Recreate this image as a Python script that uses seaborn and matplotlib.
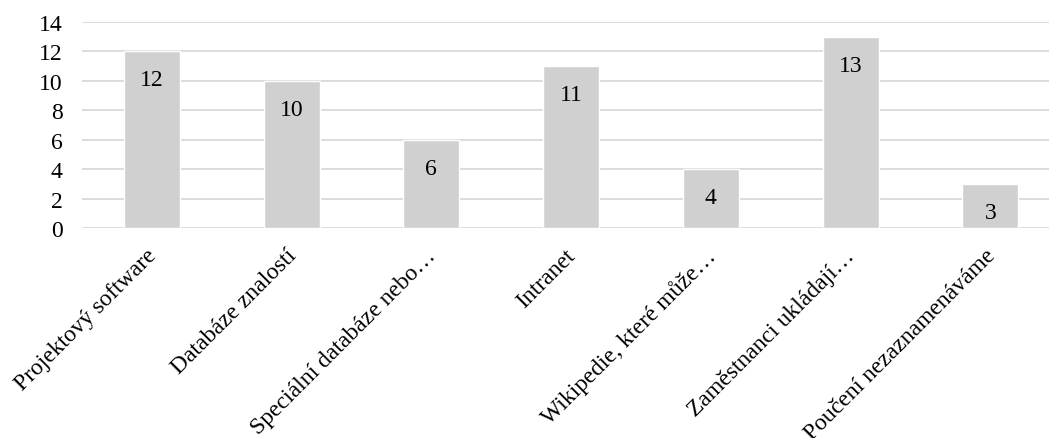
import matplotlib
matplotlib.use("Agg")
import matplotlib.pyplot as plt
import matplotlib.transforms as mtransforms
import seaborn as sns
import pandas as pd

categories = [
    "Projektový software",
    "Databáze znalostí",
    "Speciální databáze nebo…",
    "Intranet",
    "Wikipedie, které může…",
    "Zaměstnanci ukládají…",
    "Poučení nezaznamenáváme",
]
counts = [12, 10, 6, 11, 4, 13, 3]
y_ticks = [0, 2, 4, 6, 8, 10, 12, 14]

sns.set_theme(style="white")
plt.rcParams["font.family"] = ["Liberation Serif", "DejaVu Serif"]

df = pd.DataFrame({"category": categories, "count": counts})

fig = plt.figure(figsize=(10.49, 4.39), dpi=100)
ax = fig.add_axes([0.0782, 0.478, 0.9218, 0.4698])

ax.yaxis.grid(True, color="#d9d9d9", linewidth=1.3)
ax.set_axisbelow(True)

sns.barplot(data=df, x="category", y="count", color="#d0d0d0",
            width=0.4, saturation=1, ax=ax)

ax.set_ylim(0, 14)
ax.set_xlim(-0.5, 6.42)
ax.set_yticks(y_ticks)
ax.set_yticklabels([str(t) for t in y_ticks], fontsize=17, color="#000000")
ax.set_xlabel("")
ax.set_ylabel("")
for s in ax.spines.values():
    s.set_visible(False)
ax.tick_params(axis="both", length=0)
ax.tick_params(axis="y", pad=14)

# value labels just inside the top of each bar
for i, v in enumerate(counts):
    ax.annotate(str(v), xy=(i, v), xytext=(0, -13), textcoords="offset points",
                ha="center", va="top", fontsize=17, color="#000000")

ax.set_xticks(range(len(categories)))
ax.set_xticklabels(categories, rotation=45, ha="right", va="top",
                   rotation_mode="anchor", fontsize=17, color="#000000")
ax.tick_params(axis="x", pad=12)
shift = mtransforms.ScaledTranslation(-6 / 100, 0, fig.dpi_scale_trans)
for lbl in ax.get_xticklabels():
    lbl.set_transform(lbl.get_transform() + shift)

fig.savefig("out.png", dpi=100)
